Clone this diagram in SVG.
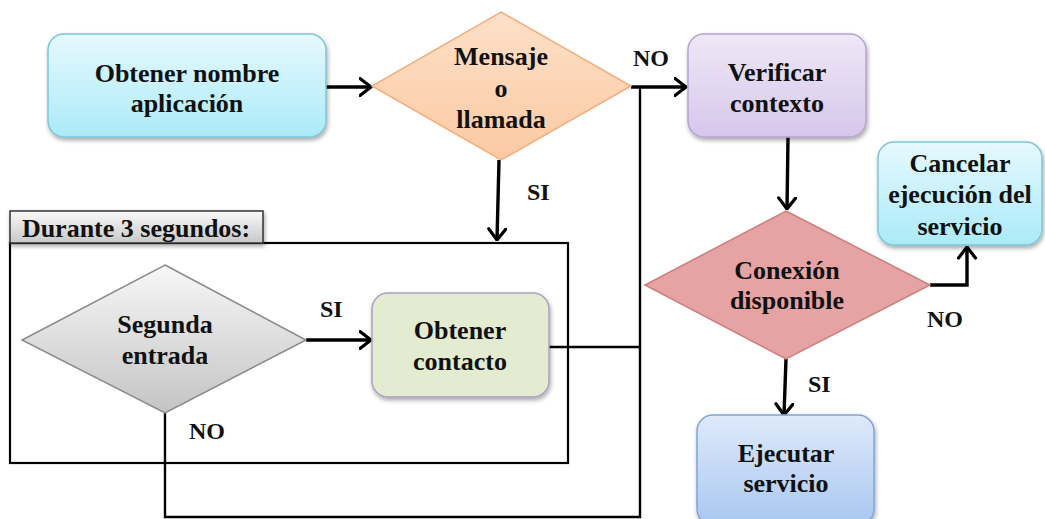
<svg xmlns="http://www.w3.org/2000/svg" width="1045" height="519" viewBox="0 0 1045 519">
  <style>
    .lbl { font-family: "Liberation Serif", "Times New Roman", serif; font-weight: bold; font-size: 26px; fill: #111; text-anchor: middle; }
    .tag { font-family: "Liberation Serif", "Times New Roman", serif; font-weight: bold; font-size: 24px; fill: #111; }
    .wire { fill: none; stroke: #000; stroke-width: 3.4; }
    .thin { fill: none; stroke: #000; stroke-width: 2.4; }
  </style>
  <defs>
    <linearGradient id="gCyan" x1="0" y1="0" x2="0" y2="1">
      <stop offset="0" stop-color="#e6f9fe"/>
      <stop offset="1" stop-color="#abeaf8"/>
    </linearGradient>
    <linearGradient id="gPeach" x1="0" y1="0" x2="0" y2="1">
      <stop offset="0" stop-color="#fde0c8"/>
      <stop offset="1" stop-color="#fbcaa3"/>
    </linearGradient>
    <linearGradient id="gPurple" x1="0" y1="0" x2="0" y2="1">
      <stop offset="0" stop-color="#efe8f7"/>
      <stop offset="1" stop-color="#d6c7ea"/>
    </linearGradient>
    <linearGradient id="gBlue" x1="0" y1="0" x2="0" y2="1">
      <stop offset="0" stop-color="#dfeafb"/>
      <stop offset="1" stop-color="#a9c7f0"/>
    </linearGradient>
    <linearGradient id="gGray" x1="0" y1="0" x2="0" y2="1">
      <stop offset="0" stop-color="#f7f7f7"/>
      <stop offset="1" stop-color="#c4c4c4"/>
    </linearGradient>
    <linearGradient id="gTab" x1="0" y1="0" x2="0" y2="1">
      <stop offset="0" stop-color="#fafafa"/>
      <stop offset="1" stop-color="#c8c8c8"/>
    </linearGradient>
    <filter id="shadow" x="-10%" y="-10%" width="125%" height="130%">
      <feDropShadow dx="1" dy="2.5" stdDeviation="2" flood-color="#000" flood-opacity="0.35"/>
    </filter>
    <!-- open chevron arrowhead -->
    <marker id="arrow" viewBox="0 0 14 20" refX="12.5" refY="10" markerWidth="14" markerHeight="20" markerUnits="userSpaceOnUse" orient="auto">
      <path d="M1.5,1.5 L12.5,10 L1.5,18.5" fill="none" stroke="#000" stroke-width="3.2" stroke-linecap="round" stroke-linejoin="round"/>
    </marker>
  </defs>

  <!-- container for the timed block -->
  <g id="durante">
    <rect x="10" y="243" width="558" height="220" fill="#fff" stroke="#000" stroke-width="2.2"/>
    <rect x="10" y="211" width="253" height="32" fill="url(#gTab)" stroke="#333" stroke-width="1.5" filter="url(#shadow)"/>
    <text class="lbl" x="136" y="237">Durante 3 segundos:</text>
  </g>

  <!-- connectors -->
  <g id="connectors">
    <path class="wire" d="M326,87 L371,87" marker-end="url(#arrow)"/>
    <path class="wire" d="M631,87 L686,87" marker-end="url(#arrow)"/>
    <path class="wire" d="M499,160 L497,240" marker-end="url(#arrow)"/>
    <path class="wire" d="M306,340 L371,340" marker-end="url(#arrow)"/>
    <path class="thin" d="M549,347 L640,347"/>
    <path class="thin" d="M640,87 L640,517 L165,517 L165,413"/>
    <path class="wire" d="M788,137 L787,209" marker-end="url(#arrow)"/>
    <path class="wire" d="M930,285 L967,285 L967,247" marker-end="url(#arrow)"/>
    <path class="wire" d="M786,359 L784,415" marker-end="url(#arrow)"/>
    <text class="tag" x="633" y="66">NO</text>
    <text class="tag" x="527" y="200">SI</text>
    <text class="tag" x="320" y="317">SI</text>
    <text class="tag" x="189" y="439">NO</text>
    <text class="tag" x="927" y="327">NO</text>
    <text class="tag" x="808" y="392">SI</text>
  </g>

  <g id="obtener-nombre">
    <rect x="48" y="34" width="278" height="103" rx="16" fill="url(#gCyan)" stroke="#7cc6d8" stroke-width="1.5" filter="url(#shadow)"/>
    <text class="lbl" x="187" y="82">Obtener nombre</text>
    <text class="lbl" x="187" y="112">aplicación</text>
  </g>

  <g id="mensaje-llamada">
    <polygon points="501,12 631,86 501,160 372,86" fill="url(#gPeach)" stroke="#f4ae7c" stroke-width="1.5"/>
    <text class="lbl" x="501" y="65">Mensaje</text>
    <text class="lbl" x="501" y="97">o</text>
    <text class="lbl" x="501" y="128">llamada</text>
  </g>

  <g id="verificar-contexto">
    <rect x="688" y="34" width="178" height="103" rx="16" fill="url(#gPurple)" stroke="#b5a3d1" stroke-width="1.5" filter="url(#shadow)"/>
    <text class="lbl" x="777" y="81">Verificar</text>
    <text class="lbl" x="777" y="112">contexto</text>
  </g>

  <g id="segunda-entrada">
    <polygon points="165,265 306,340 165,413 22,340" fill="url(#gGray)" stroke="#8a8a8a" stroke-width="1.5"/>
    <text class="lbl" x="165" y="333">Segunda</text>
    <text class="lbl" x="165" y="364">entrada</text>
  </g>

  <g id="obtener-contacto">
    <rect x="372" y="293" width="177" height="104" rx="16" fill="#e3ebd1" stroke="#ad9fc6" stroke-width="1.5" filter="url(#shadow)"/>
    <text class="lbl" x="460" y="339">Obtener</text>
    <text class="lbl" x="460" y="370">contacto</text>
  </g>

  <g id="conexion-disponible">
    <polygon points="786,211 930,285 786,359 645,285" fill="#e5a3a3" stroke="#cd7f7f" stroke-width="1.5"/>
    <text class="lbl" x="787" y="279">Conexión</text>
    <text class="lbl" x="787" y="309">disponible</text>
  </g>

  <g id="cancelar-ejecucion">
    <rect x="878" y="142" width="164" height="103" rx="16" fill="url(#gCyan)" stroke="#7cc6d8" stroke-width="1.5" filter="url(#shadow)"/>
    <text class="lbl" x="960" y="172">Cancelar</text>
    <text class="lbl" x="960" y="203">ejecución del</text>
    <text class="lbl" x="960" y="235">servicio</text>
  </g>

  <g id="ejecutar-servicio">
    <rect x="697" y="415" width="177" height="110" rx="16" fill="url(#gBlue)" stroke="#7ea5d6" stroke-width="1.5" filter="url(#shadow)"/>
    <text class="lbl" x="786" y="462">Ejecutar</text>
    <text class="lbl" x="786" y="492">servicio</text>
  </g>
</svg>
